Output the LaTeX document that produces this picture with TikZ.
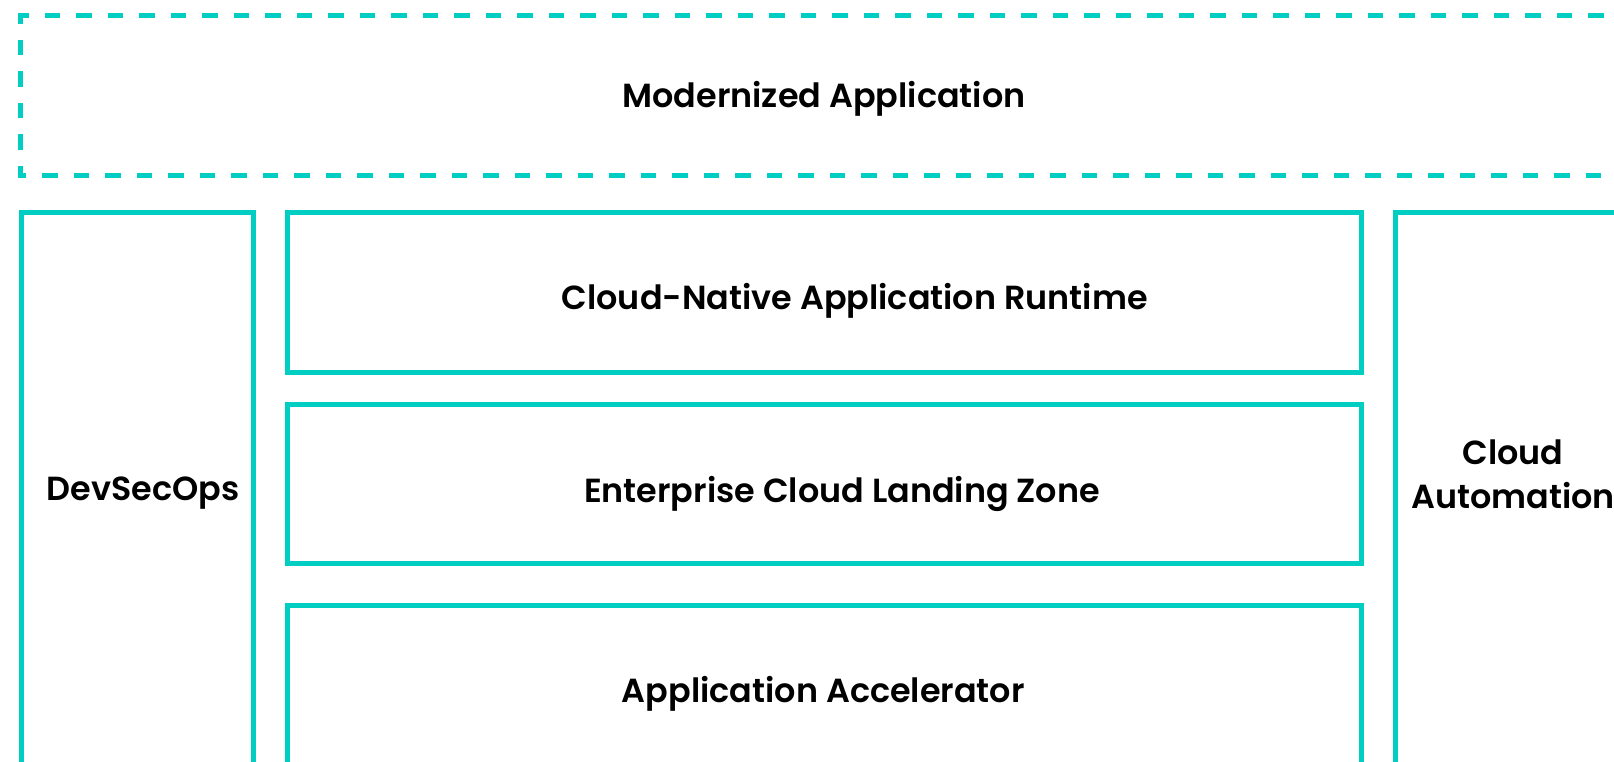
\documentclass[tikz,border=0pt]{standalone}
\usepackage{fontspec}
\setmainfont{Poppins}[UprightFont={* SemiBold}]
\definecolor{MyTeal}{HTML}{00CEC2}

\begin{document}
\begin{tikzpicture}[x=1pt,y=-1pt,
    layer/.style={draw=MyTeal,line width=5pt,inner sep=0pt},
    dashline/.style={draw=MyTeal,line width=5pt,dash pattern=on 15.5pt off 16pt},
    caption/.style={inner sep=0pt,font=\fontsize{33.4}{44}\selectfont,text height=23.4pt,text depth=0pt}]
            \useasboundingbox (0,0) rectangle (1614,762);
            \clip (0,0) rectangle (1614,762);

            % top layer, dashed
            \node[caption,minimum width=1606pt,minimum height=159.5pt] (app) at (824,95.75) {Modernized Application};
            \draw[dashline,dash phase=5pt] ([xshift=-2.5pt]app.north west) -- (app.north east);
            \draw[dashline,dash phase=7.5pt] (app.north west) -- (app.south west) -- (app.south east);

            \node[layer,minimum width=232.5pt,minimum height=555pt] (devsecops) at (137.25,490) {};
            \node[caption] (devsecopstext) at (143,489) {DevSecOps};

            \node[layer,minimum width=1074pt,minimum height=159.5pt] (runtime) at (824.5,292.25) {};
            \node[caption] (runtimetext) at (854.7,297.4) {Cloud-Native Application Runtime};

            \node[layer,minimum width=1074pt,minimum height=158.5pt] (landing) at (824.5,483.75) {};
            \node[caption] (landingtext) at (842,491) {Enterprise Cloud Landing Zone};

            \node[layer,minimum width=1074pt,minimum height=160pt] (accel) at (824.5,685.5) {};
            \node[caption] (acceltext) at (823.3,690.5) {Application Accelerator};

            \node[layer,minimum width=231pt,minimum height=555pt] (automation) at (1511,490) {};
            \node[inner sep=0pt,font=\fontsize{33.4}{44}\selectfont,align=center,anchor=north] (automationtext) at (1513,439.6) {Cloud\\Automation};
\end{tikzpicture}
\end{document}
